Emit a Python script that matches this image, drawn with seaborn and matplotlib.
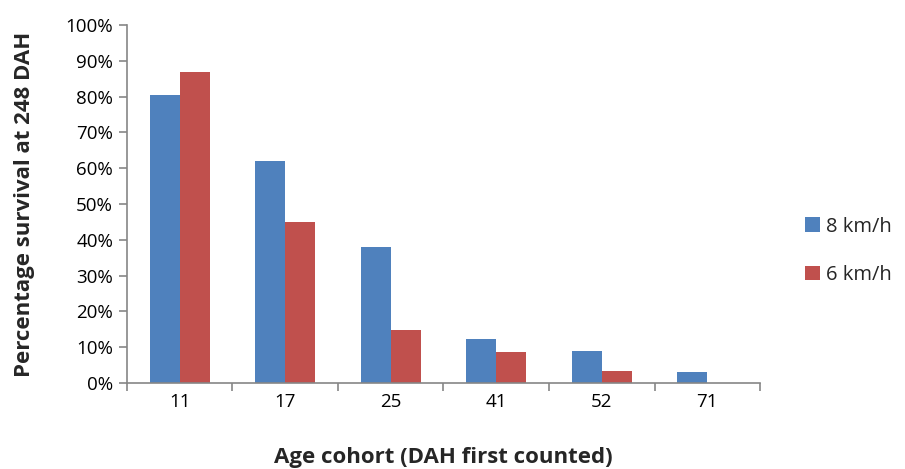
import matplotlib
matplotlib.use("Agg")
import matplotlib.pyplot as plt
import seaborn as sns
import pandas as pd
from matplotlib.ticker import FixedLocator, PercentFormatter
from matplotlib.patches import Patch

categories = ["11", "17", "25", "41", "52", "71"]
series_names = ["8 km/h", "6 km/h"]
vals_8 = [80.5, 62.0, 38.0, 12.4, 9.0, 3.0]
vals_6 = [86.8, 44.9, 14.9, 8.6, 3.3, 0.0]
colors = ["#4F81BD", "#C0504D"]

df = pd.DataFrame({
    "cohort": categories * 2,
    "speed": [series_names[0]] * len(categories) + [series_names[1]] * len(categories),
    "value": vals_8 + vals_6,
})

sns.set_theme(style="white")
plt.rcParams["font.family"] = ["Open Sans", "DejaVu Sans"]

fig = plt.figure(figsize=(9.05, 4.69), dpi=100)
ax = fig.add_axes([0.1403, 0.1834, 0.6995, 0.7633])

sns.barplot(data=df, x="cohort", y="value", hue="speed", order=categories,
            hue_order=series_names, palette=colors, width=0.57, ax=ax,
            saturation=1, legend=False, edgecolor="none")

ax.set_xlim(-0.5, len(categories) - 0.5)
ax.set_ylim(0, 100)
ax.yaxis.set_major_locator(FixedLocator(range(0, 101, 10)))
ax.yaxis.set_major_formatter(PercentFormatter(decimals=0))

for s in ["top", "right"]:
    ax.spines[s].set_visible(False)
for s in ["left", "bottom"]:
    ax.spines[s].set_color("#868686")
    ax.spines[s].set_linewidth(1.2)

ax.tick_params(axis="y", which="major", left=True, length=6, width=1.2,
               color="#868686", labelsize=13.5, pad=4, labelcolor="black")
ax.tick_params(axis="x", which="major", length=0, labelsize=13.5, pad=7,
               labelcolor="black")
ax.xaxis.set_minor_locator(FixedLocator([i - 0.5 for i in range(len(categories) + 1)]))
ax.tick_params(axis="x", which="minor", bottom=True, length=6, width=1.2,
               color="#868686")

ax.set_xlabel("Age cohort (DAH first counted)", fontsize=16, fontweight="bold",
              labelpad=26)
ax.set_ylabel("Percentage survival at 248 DAH", fontsize=16, fontweight="bold",
              labelpad=22)

handles = [Patch(facecolor=c, edgecolor="none", label=n) for c, n in zip(colors, series_names)]
fig.legend(handles=handles, loc="center left", bbox_to_anchor=(0.883, 0.465),
           frameon=False, fontsize=14.5, handlelength=0.75, handleheight=0.75,
           handletextpad=0.3, labelspacing=1.4, borderpad=0.2, borderaxespad=0.1)

fig.savefig("out.png", dpi=100)
